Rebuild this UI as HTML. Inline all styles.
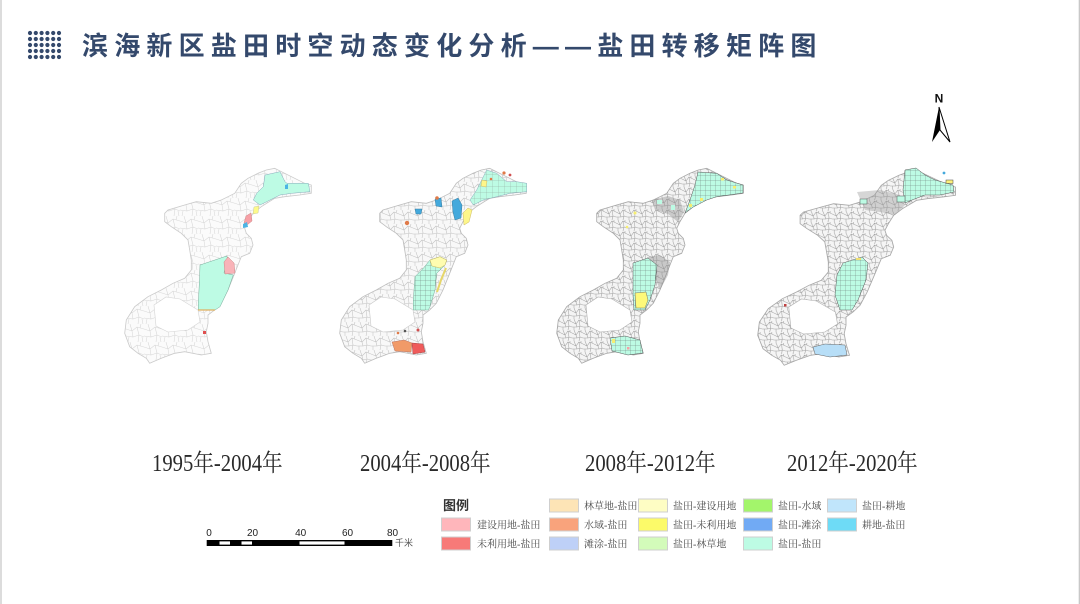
<!DOCTYPE html>
<html>
<head>
<meta charset="utf-8">
<style>
html,body{margin:0;padding:0;background:#fff;}
#wrap{position:relative;width:1080px;height:604px;overflow:hidden;background:#fff;}
svg{position:absolute;left:0;top:0;}
</style>
</head>
<body>
<div id="wrap">
<svg width="1080" height="604" viewBox="0 0 1080 604" xmlns="http://www.w3.org/2000/svg">
<defs>
  <pattern id="m1" width="18" height="18" patternUnits="userSpaceOnUse">
    <path d="M0,5 L6,7 L11,3 L18,5 M6,7 L7,13 L0,12 M7,13 L13,11 L18,13 M11,3 L13,11 M13,11 L12,18 M4,0 L6,7 M15,0 L14,4 M3,13 L2,18 M16,13 L17,18" stroke="#d6d6d6" stroke-width="0.55" fill="none"/>
  </pattern>
  <pattern id="m2" width="14" height="14" patternUnits="userSpaceOnUse">
    <path d="M0,4 L5,6 L9,2 L14,4 M5,6 L6,10 L0,10 M6,10 L10,9 L14,10 M9,2 L10,9 M10,9 L9,14 M3,0 L5,6 M12,0 L11,3 M2,10 L2,14" stroke="#c2c2c2" stroke-width="0.55" fill="none"/>
  </pattern>
  <pattern id="m3" width="11" height="11" patternUnits="userSpaceOnUse">
    <path d="M0,3 L4,5 L7,1 L11,3 M4,5 L5,8 L0,8 M5,8 L8,7 L11,8 M7,1 L8,7 M8,7 L7,11 M2,0 L4,5 M9,0 L9,2 M2,8 L2,11" stroke="#a3a3a3" stroke-width="0.55" fill="none"/>
  </pattern>
  <pattern id="grid" width="5" height="5" patternUnits="userSpaceOnUse">
    <path d="M0,0 H5 M0,0 V5" stroke="#6b7a74" stroke-width="0.5" fill="none"/>
  </pattern>
  <pattern id="gridl" width="6" height="6" patternUnits="userSpaceOnUse">
    <path d="M0,0 H6 M0,0 V6" stroke="#8fa69d" stroke-width="0.5" fill="none"/>
  </pattern>
  <path id="reg" d="M698.3,170 L706.7,168.3 L716.7,173.3 L726.7,178.3 L736.7,183.3 L743.3,185 L743.3,193.3 L731.7,195 L716.7,196.7 L706.7,198.3 L693.3,206.7 L685,213.3 L680,221.7 L676.7,228.3 L678.3,233.3 L683.3,238.3 L685,245 L681.7,253.3 L673.3,256.7 L670,265 L666.7,273.3 L660,290 L653.3,303.3 L646.7,310 L640,315 L640,323.3 L638.3,331.7 L640,341.7 L643.3,353.3 L633.3,355 L616.7,351.7 L606.7,353.3 L593.3,358.3 L581.7,363.3 L578.3,358.3 L570,353.3 L561.7,346.7 L556.7,333.3 L558.3,320 L566.7,306.7 L580,296.7 L593.3,290 L605,283.3 L616.7,278.3 L623.3,270 L623.3,260 L621.7,250 L620,240 L613.3,233.3 L603.3,226.7 L596.7,221.7 L596.7,213.3 L600,210 L616.7,205 L628.3,201.7 L643.3,203.3 L653.3,200 L660,196.7 L666.7,193.3 L673.3,183.3 L680,178.3 L690,173.3 Z"/>
  <path id="hole" d="M586,305 L598,297 L612,299 L630,310 L632,322 L620,330 L600,332 L588,326 Z"/>
</defs>

<rect x="0" y="0" width="2" height="604" fill="#dcdcdc"/>
<rect x="1078.7" y="0" width="1.3" height="604" fill="#c8c8c8"/>

<g fill="#34496c">
  <circle cx="30" cy="33" r="2.1"/><circle cx="35.8" cy="33" r="2.1"/><circle cx="41.6" cy="33" r="2.1"/><circle cx="47.4" cy="33" r="2.1"/><circle cx="53.2" cy="33" r="2.1"/><circle cx="59" cy="33" r="2.1"/>
  <circle cx="30" cy="39" r="2.1"/><circle cx="35.8" cy="39" r="2.1"/><circle cx="41.6" cy="39" r="2.1"/><circle cx="47.4" cy="39" r="2.1"/><circle cx="53.2" cy="39" r="2.1"/><circle cx="59" cy="39" r="2.1"/>
  <circle cx="30" cy="45" r="2.1"/><circle cx="35.8" cy="45" r="2.1"/><circle cx="41.6" cy="45" r="2.1"/><circle cx="47.4" cy="45" r="2.1"/><circle cx="53.2" cy="45" r="2.1"/><circle cx="59" cy="45" r="2.1"/>
  <circle cx="30" cy="51" r="2.1"/><circle cx="35.8" cy="51" r="2.1"/><circle cx="41.6" cy="51" r="2.1"/><circle cx="47.4" cy="51" r="2.1"/><circle cx="53.2" cy="51" r="2.1"/><circle cx="59" cy="51" r="2.1"/>
  <circle cx="30" cy="57" r="2.1"/><circle cx="35.8" cy="57" r="2.1"/><circle cx="41.6" cy="57" r="2.1"/><circle cx="47.4" cy="57" r="2.1"/><circle cx="53.2" cy="57" r="2.1"/><circle cx="59" cy="57" r="2.1"/>
</g>

<text x="82" y="55" font-family="'Liberation Sans','Noto Sans CJK SC',sans-serif" font-size="26" font-weight="700" letter-spacing="6.2" fill="#34496c">滨海新区盐田时空动态变化分析——盐田转移矩阵图</text>

<text x="939" y="102.5" text-anchor="middle" font-family="'Liberation Sans',sans-serif" font-size="12" font-weight="700" fill="#111">N</text>
<polygon points="939,107 932,142 940,130" fill="#000"/>
<polygon points="939,107 940,130 950,142" fill="#fff" stroke="#000" stroke-width="1"/>

<!-- MAP 1 -->
<g transform="translate(-432,0)">
  <use href="#reg" fill="#fbfbfb"/>
  <use href="#reg" fill="url(#m1)" stroke="#cacaca" stroke-width="0.8"/>
  <use href="#hole" fill="#fff" stroke="#d4d4d4" stroke-width="0.6"/>
</g>
<g stroke-width="0.5">
  <polygon fill="#bdfbe4" stroke="#8ab" points="265,175 280,171.7 285,181.7 287,183.3 308.3,183.3 310,191.7 291.7,193.3 280,195 266.7,201.7 260,205 253.3,200 256.7,193.3 263.3,186.7"/>
  <polygon fill="#fdfa8a" stroke="#cc9" points="254,207 259,206 258,213 253,214"/>
  <polygon fill="#f7a0a6" stroke="#c88" points="246,216 251,213 252,221 247,225 244,223"/>
  <polygon fill="#4cb4e4" points="243,224 247,222 248,227 243,228"/>
  <polygon fill="#4cb4e4" points="285,185 288,184 288,189 285,189"/>
  <polygon fill="#bdfbe4" stroke="#7a9" points="200,265 226.7,256 229,262 226,264 224,273 233.3,275 228,290 220,306.7 215,310 198.3,310 198.3,303.3 199.5,280"/>
  <polygon fill="#f9b3b8" stroke="#c88" points="224,262 228,257 234,263 235,273 225,274"/>
  <line x1="198" y1="310" x2="215" y2="310" stroke="#e0b060" stroke-width="1.2"/>
  <rect x="203" y="331" width="3" height="3" fill="#e05050"/>
</g>

<!-- MAP 2 -->
<g transform="translate(-217,0)">
  <use href="#reg" fill="#f8f8f8"/>
  <use href="#reg" fill="url(#m2)" stroke="#bdbdbd" stroke-width="0.8"/>
  <use href="#hole" fill="#fff" stroke="#c8c8c8" stroke-width="0.6"/>
</g>
<g stroke-width="0.5">
  <polygon fill="#bdfbe4" stroke="#8ab" points="486.7,170 496.7,173.3 506.7,181.7 516.7,181.7 526.7,183.3 526.7,191.7 510,193.3 496.7,196.7 483.3,200 473.3,205 470,200 476.7,190 481.7,180"/>
  <polygon fill="url(#gridl)" points="486.7,170 496.7,173.3 506.7,181.7 516.7,181.7 526.7,183.3 526.7,191.7 510,193.3 496.7,196.7 483.3,200 473.3,205 470,200 476.7,190 481.7,180"/>
  <polygon fill="#fdf68a" stroke="#cb6" points="463,213 468,208 472,210 469,222 464,225"/>
  <polygon fill="#fdf68a" stroke="#cb6" points="482,180 487,181 486,187 481,186"/>
  <polygon fill="#44a9dc" stroke="#3a7da0" points="452,201 458,198 462,205 461,218 455,220 453,212"/>
  <polygon fill="#44a9dc" stroke="#3a7da0" points="435,199 441,198 442,207 436,206"/>
  <polygon fill="#44a9dc" stroke="#3a7da0" points="415,209 422,209 421,214 416,214"/>
  <circle cx="437" cy="198" r="1.8" fill="#e07a48"/>
  <circle cx="407" cy="223" r="2.2" fill="#e07a48"/>
  <circle cx="504" cy="173" r="1.6" fill="#e07a48"/>
  <circle cx="510" cy="175" r="1.4" fill="#d05050"/>
  <circle cx="491" cy="179" r="1.3" fill="#e07a48"/>
  <polygon fill="#bdfbe4" stroke="#7a9" points="430,260 440,256.7 446.7,260 445,265 436.7,273.3 435,290 430,306.7 428.3,310 413.3,310 413.3,300 415,276.7 423.3,268.3"/>
  <polygon fill="url(#grid)" points="430,260 440,256.7 446.7,260 445,265 436.7,273.3 435,290 430,306.7 428.3,310 413.3,310 413.3,300 415,276.7 423.3,268.3"/>
  <polygon fill="#fefcb0" stroke="#c9b85a" points="430,260 440,256.7 446.7,260 445,265 440,268 432,266"/>
  <polyline points="446,268 441,280 437,292" fill="none" stroke="#e6d66a" stroke-width="2"/>
  <polygon fill="#f19a68" stroke="#b76" points="392,342 404,340 412,343 411,352 395,351"/>
  <polygon fill="#ef5b5b" stroke="#a44" points="412,343 423,344 425,352 413,354"/>
  <circle cx="398" cy="333" r="1.3" fill="#e07a48"/>
  <circle cx="405" cy="331" r="1.3" fill="#555"/>
  <circle cx="418" cy="330" r="1.5" fill="#d05050"/>
</g>

<!-- MAP 3 -->
<g>
  <use href="#reg" fill="#f4f4f4"/>
  <use href="#reg" fill="url(#m3)" stroke="#a8a8a8" stroke-width="0.8"/>
  <use href="#hole" fill="#fff" stroke="#b0b0b0" stroke-width="0.6"/>
</g>
<g stroke-width="0.5">
  <polygon fill="#bdfbe4" stroke="#555" points="698,172 716.7,173.3 726.7,180 743,185 743,193 716.7,196.7 706.7,200 693.3,207 685,213 690,200 695,185"/>
  <polygon fill="url(#grid)" points="698,172 716.7,173.3 726.7,180 743,185 743,193 716.7,196.7 706.7,200 693.3,207 685,213 690,200 695,185"/>
  <rect x="700" y="198" width="3" height="3" fill="#f6ee70"/>
  <rect x="689" y="204" width="3" height="3" fill="#f6ee70"/>
  <rect x="721" y="178" width="3" height="2.5" fill="#f6ee70"/>
  <rect x="733" y="186" width="3" height="2.5" fill="#f6ee70"/>
  <polygon fill="#8b8b8b" fill-opacity="0.4" points="652,200 668,196 680,200 684,212 678,222 668,214 655,210"/>
  <rect x="657" y="200" width="5" height="4" fill="#bdfbe4"/>
  <rect x="671" y="205" width="4" height="5" fill="#bdfbe4"/>
  <circle cx="635" cy="213" r="1.5" fill="#f6ee70"/>
  <circle cx="627" cy="227" r="1.3" fill="#f6ee70"/>
  <polygon fill="#888" fill-opacity="0.4" points="647,257 660,255 670,262 668,275 660,290"/>
  <polygon fill="#bdfbe4" stroke="#555" points="633,263 648,258 657,265 655,285 650,300 645,310 634,310 633,295"/>
  <polygon fill="url(#grid)" points="633,263 648,258 657,265 655,285 650,300 645,310 634,310 633,295"/>
  <polygon fill="#fdf97a" stroke="#776" points="635,293 646,292 648,300 645,308 636,308"/>
  <polygon fill="#bdfbe4" stroke="#555" points="610,338 625,336 640,340 643,353 628,355 612,351"/>
  <polygon fill="url(#grid)" points="610,338 625,336 640,340 643,353 628,355 612,351"/>
  <rect x="612" y="339" width="3" height="4" fill="#f6ee70"/>
  <rect x="627" y="347" width="2.5" height="2.5" fill="#f5a0a6"/>
</g>

<!-- MAP 4 -->
<g transform="matrix(1.06 0 0 1 167.6 2)">
  <use href="#reg" fill="#f5f5f5"/>
  <use href="#reg" fill="url(#m3)" stroke="#a8a8a8" stroke-width="0.8"/>
  <use href="#hole" fill="#fff" stroke="#b0b0b0" stroke-width="0.6"/>
</g>
<g stroke-width="0.5">
  <polygon fill="#bdfbe4" stroke="#555" points="905,170 916,168 925,175 935,180 953,185 954,192 940,195 925,195 912,200 905,203 903,190"/>
  <polygon fill="url(#grid)" points="905,170 916,168 925,175 935,180 953,185 954,192 940,195 925,195 912,200 905,203 903,190"/>
  <rect x="946" y="180" width="7" height="3.5" fill="#fdf07a" stroke="#444"/>
  <circle cx="944" cy="173" r="1.4" fill="#44a9dc"/>
  <polygon fill="#999" fill-opacity="0.4" points="857,192 880,190 900,195 905,205 895,215 880,212 865,210"/>
  <rect x="860" y="199" width="7" height="5" fill="#bdfbe4" stroke="#555"/>
  <rect x="897" y="196" width="8" height="6" fill="#bdfbe4" stroke="#555"/>
  <polygon fill="#999" fill-opacity="0.4" points="855,262 868,262 866,280 858,300 850,300"/>
  <polygon fill="#bdfbe4" stroke="#555" points="843,263 862,257 868,263 866,280 858,300 852,310 840,310 835,295 837,275"/>
  <polygon fill="url(#grid)" points="843,263 862,257 868,263 866,280 858,300 852,310 840,310 835,295 837,275"/>
  <rect x="856" y="258" width="5" height="2" fill="#f0e070"/>
  <polygon fill="#b7def7" stroke="#666" points="813,347 825,344 845,345 847,355 830,357 815,354"/>
  <rect x="784" y="304" width="2.5" height="2.5" fill="#c04040"/>
</g>

<g font-family="'Liberation Serif','Noto Serif CJK SC',serif" font-size="24" fill="#2a2a2a">
  <text transform="translate(152,471) scale(0.86,1)">1995年-2004年</text>
  <text transform="translate(360,471) scale(0.86,1)">2004年-2008年</text>
  <text transform="translate(585,471) scale(0.86,1)">2008年-2012年</text>
  <text transform="translate(787,471) scale(0.86,1)">2012年-2020年</text>
</g>

<rect x="206.7" y="540" width="185.6" height="6" fill="#000"/>
<rect x="219.5" y="541.4" width="10.5" height="3.2" fill="#fff"/>
<rect x="241.5" y="541.4" width="10.5" height="3.2" fill="#fff"/>
<rect x="299.5" y="541.4" width="45" height="3.2" fill="#fff"/>
<g font-family="'Liberation Sans',sans-serif" font-size="10" fill="#222" text-anchor="middle">
  <text x="209" y="536">0</text>
  <text x="252.5" y="536">20</text>
  <text x="300.7" y="536">40</text>
  <text x="347.5" y="536">60</text>
  <text x="392.5" y="536">80</text>
</g>
<text x="395" y="546" font-family="'Liberation Sans','Noto Sans CJK SC',sans-serif" font-size="9" fill="#555">千米</text>

<text x="443" y="510" font-family="'Liberation Sans','Noto Sans CJK SC',sans-serif" font-size="13" font-weight="700" fill="#333">图例</text>
<g stroke="#cfcfcf" stroke-width="1">
  <rect x="441.5" y="518" width="29" height="13" fill="#ffb6bb"/>
  <rect x="441.5" y="537" width="29" height="13" fill="#f77a78"/>
  <rect x="549.5" y="499" width="29" height="13" fill="#fde4b6"/>
  <rect x="549.5" y="518" width="29" height="13" fill="#f9a37c"/>
  <rect x="549.5" y="537" width="29" height="13" fill="#bed0f7"/>
  <rect x="638.5" y="499" width="29" height="13" fill="#fefdc4"/>
  <rect x="638.5" y="518" width="29" height="13" fill="#fcfa69"/>
  <rect x="638.5" y="537" width="29" height="13" fill="#d3fbba"/>
  <rect x="743.5" y="499" width="29" height="13" fill="#a3f56b"/>
  <rect x="743.5" y="518" width="29" height="13" fill="#71aaf4"/>
  <rect x="743.5" y="537" width="29" height="13" fill="#bdfbe4"/>
  <rect x="827.5" y="499" width="29" height="13" fill="#c0e5fb"/>
  <rect x="827.5" y="518" width="29" height="13" fill="#6edbf6"/>
</g>
<g font-family="'Liberation Serif','Noto Serif CJK SC',serif" font-size="10" fill="#4a4a4a">
  <text x="477" y="528.5">建设用地-盐田</text>
  <text x="477" y="547.5">未利用地-盐田</text>
  <text x="584" y="509.5">林草地-盐田</text>
  <text x="584" y="528.5">水域-盐田</text>
  <text x="584" y="547.5">滩涂-盐田</text>
  <text x="673" y="509.5">盐田-建设用地</text>
  <text x="673" y="528.5">盐田-未利用地</text>
  <text x="673" y="547.5">盐田-林草地</text>
  <text x="778" y="509.5">盐田-水域</text>
  <text x="778" y="528.5">盐田-滩涂</text>
  <text x="778" y="547.5">盐田-盐田</text>
  <text x="862" y="509.5">盐田-耕地</text>
  <text x="862" y="528.5">耕地-盐田</text>
</g>
</svg>
</div>
</body>
</html>
